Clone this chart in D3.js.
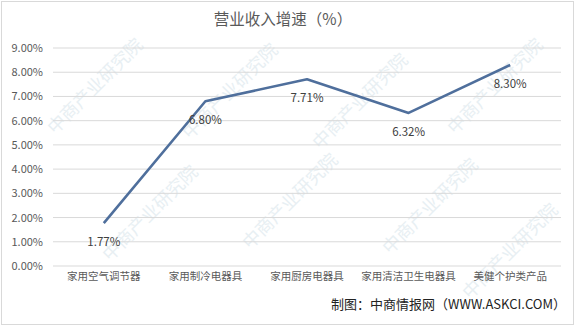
<!DOCTYPE html>
<html><head><meta charset="utf-8">
<script src="https://cdn.jsdelivr.net/npm/d3@7"></script>
<style>body{margin:0;background:#fff}svg{display:block}</style>
</head><body>
<script>
const categories = ["家用空气调节器","家用制冷电器具","家用厨房电器具","家用清洁卫生电器具","美健个护类产品"];
const values = [1.77, 6.80, 7.71, 6.32, 8.30];
const yTicks = [0,1,2,3,4,5,6,7,8,9];
const title = "营业收入增速（%）";
const footer = "制图：中商情报网（WWW.ASKCI.COM）";

const W = 576, H = 327;
const svg = d3.select("body").append("svg").attr("width", W).attr("height", H);
svg.append("rect").attr("x",1.5).attr("y",1.5).attr("width",W-4).attr("height",H-4)
  .attr("fill","#fff").attr("stroke","#d9d9d9");

const font = "'Microsoft YaHei','Noto Sans CJK SC',sans-serif";
// watermarks (kept fully inside the frame)
const wm = [[55,135],[190,140],[320,150],[455,135],[110,262],[250,250],[390,255],[470,300]];
wm.forEach(([x,y])=>{
  svg.append("text").attr("transform",`translate(${x},${y}) rotate(-45)`)
    .attr("font-family",font).attr("font-size",18).attr("fill","#e8eff3").text("中商产业研究院");
});

const x = d3.scaleBand().domain(categories).range([53, 561]);
const y = d3.scaleLinear().domain([0, 9]).range([266, 48]);

svg.append("g").selectAll("line").data(yTicks).join("line")
  .attr("x1",53).attr("x2",561).attr("y1",d=>y(d)).attr("y2",d=>y(d))
  .attr("stroke","#d9d9d9").attr("stroke-width",1);

const yAxis = d3.axisLeft(y).tickValues(yTicks).tickFormat(d=>d.toFixed(2)+"%").tickSize(0).tickPadding(10);
const ya = svg.append("g").attr("transform","translate(53,0)").call(yAxis);
ya.select(".domain").remove();
ya.selectAll("text").attr("font-family",font).attr("font-size",11).attr("fill","#595959");

const xAxis = d3.axisBottom(x).tickSize(0).tickPadding(7);
const xa = svg.append("g").attr("transform","translate(0,266)").call(xAxis);
xa.select(".domain").remove();
xa.selectAll("text").attr("font-family",font).attr("font-size",10.5).attr("fill","#595959");

const cx = d => x(d) + x.bandwidth()/2;
const line = d3.line().x((d,i)=>cx(categories[i])).y(d=>y(d));
svg.append("path").datum(values).attr("d",line).attr("fill","none")
  .attr("stroke","#4f6f9c").attr("stroke-width",2.6).attr("stroke-linejoin","round");

svg.selectAll("text.lbl").data(values).join("text").attr("class","lbl")
  .attr("x",(d,i)=>cx(categories[i])).attr("y",d=>y(d)+23)
  .attr("text-anchor","middle").attr("font-family",font).attr("font-size",11.5)
  .attr("fill","#404040").text(d=>d.toFixed(2)+"%");

svg.append("text").attr("x",283).attr("y",25).attr("text-anchor","middle")
  .attr("font-family",font).attr("font-size",15.5).attr("fill","#595959").text(title);

svg.append("text").attr("x",566).attr("y",309).attr("text-anchor","end")
  .attr("font-family",font).attr("font-size",13).attr("fill","#222").text(footer);
</script>
</body></html>
